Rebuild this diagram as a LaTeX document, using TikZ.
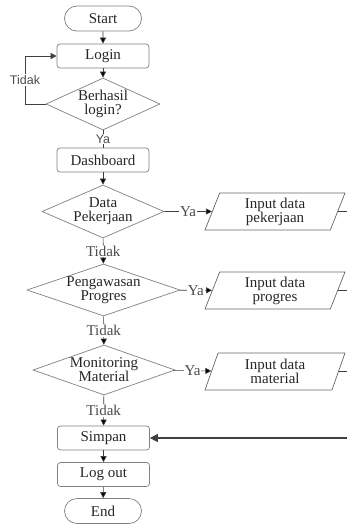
\documentclass[tikz,border=0pt]{standalone}
\usepackage{fontspec}
\setmainfont{Liberation Serif}
\newfontfamily\arialfont{Liberation Sans}
\usepackage{xcolor}
\usetikzlibrary{shapes.geometric, shapes.misc, arrows.meta, positioning}

\begin{document}
\begin{tikzpicture}[x=1pt,y=-1pt,
  font=\fontsize{15}{14}\selectfont,
  >={Triangle[length=6pt,width=6pt]},
  every node/.style={text=black!85},
  term/.style={rounded rectangle, draw=black!50, line width=0.7pt, minimum width=77pt, minimum height=25pt, inner sep=0pt},
  proc/.style={rectangle, rounded corners=3pt, draw=black!50, line width=0.7pt, minimum width=92pt, minimum height=24pt, inner sep=0pt},
  dec/.style={diamond, draw=black!50, line width=0.7pt, align=center, inner sep=0pt, inner xsep=-8pt, shape aspect=2.7},
  io/.style={trapezium, trapezium left angle=62, trapezium right angle=118, trapezium stretches body,
    draw=black!60, line width=0.7pt, align=center, minimum width=140pt, minimum height=37pt, inner sep=0pt},
  lbl/.style={fill=white, inner sep=1pt, text=black!70},
  lbls/.style={lbl, font=\arialfont\fontsize{12.5}{12.5}\selectfont},
  conn/.style={draw=black!75, line width=0.6pt}]
\useasboundingbox (0,0) rectangle (347,525);

\node[term](start) at (103,18.5) {Start};
\node[proc](login) at (103,56) {Login};
\node[dec, minimum width=114pt, minimum height=52pt](cek) at (103,104) {Berhasil\\login?};
\node[proc](dash) at (103,160) {Dashboard};

\node[dec, minimum width=122pt, minimum height=53pt](dp) at (103,211.5) {Data\\Pekerjaan};
\node[io](in1) at (275,211.5) {Input data\\pekerjaan};

\node[dec, minimum width=153pt, minimum height=52pt](pp) at (103.5,290) {Pengawasan\\Progres};
\node[io](in2) at (275,290.5) {Input data\\progres};

\node[dec, minimum width=142pt, minimum height=50pt](mm) at (104,370) {Monitoring\\Material};
\node[io](in3) at (275,371.5) {Input data\\material};

\node[proc](simpan) at (103.5,438) {Simpan};
\node[proc](logout) at (103.5,474.5) {Log out};
\node[term](end) at (103,511) {End};

% ujung kanan (terpotong)
\coordinate(r1) at (347,211.5);
\coordinate(r2) at (347,290.5);
\coordinate(r3) at (347,371.5);
\coordinate(r4) at (347,438);
\coordinate(lk1) at (25,104);
\coordinate(lk2) at (25,56);

\draw[conn]	(start) edge[->] (login)
		(login) edge[->] (cek)
		(cek) edge node[lbls] {Ya} (dash)
		(dash) edge[->] (dp)
		(dp) edge[->] node[lbl] {Tidak} (pp)
		(pp) edge[->] node[lbl] {Tidak} (mm)
		(mm) edge[->] node[lbl] {Tidak} (simpan)
		(simpan) edge[->] (logout)
		(logout) edge[->] (end);
\draw[conn,->] (cek.west) -- (lk1) -- node[lbls] {Tidak} (lk2) -- (login.west);

\draw[conn]	(dp) edge[->] node[lbl] {Ya} (in1)
		(pp) edge[->] node[lbl] {Ya} (in2)
		(mm) edge[->] node[lbl] {Ya} (in3)
		(in1.east) edge (r1)
		(in2.east) edge (r2)
		(in3.east) edge (r3);
\draw[conn, line width=1.1pt, -{Triangle[length=8pt,width=8pt]}] (r4) -- (simpan.east);
\end{tikzpicture}
\end{document}
